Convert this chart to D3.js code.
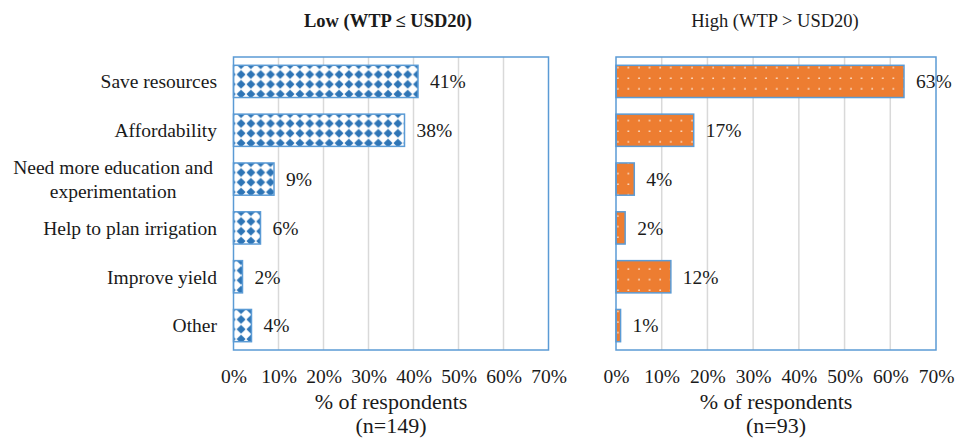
<!DOCTYPE html>
<html>
<head>
<meta charset="utf-8">
<script src="https://cdn.jsdelivr.net/npm/d3@7"></script>
<style>
  body { margin: 0; background: #fff; }
  svg text { font-family: "Liberation Serif", "Times New Roman", Times, serif; fill: #1a1a1a; }
</style>
</head>
<body>
<script>
'use strict';

// chart data
const categories = ["Save resources", "Affordability", "Need more education and|experimentation",
  "Help to plan irrigation", "Improve yield", "Other"];
const lowValues = [41, 38, 9, 6, 2, 4];
const highValues = [63, 17, 4, 2, 12, 1];
const tickValues = [0, 10, 20, 30, 40, 50, 60, 70];

(function () {

  const serif = '"Liberation Serif", "Times New Roman", serif';

  const svg = d3.select('body').append('svg')
    .attr('width', 958)
    .attr('height', 440)
    .attr('font-family', serif);

  const defs = svg.append('defs');

  // blue diamond pattern for the low panel
  const diamond = defs.append('pattern')
    .attr('id', 'diamonds')
    .attr('patternUnits', 'userSpaceOnUse')
    .attr('width', 9.8)
    .attr('height', 9.8)
    .attr('x', 1)
    .attr('y', 1);
  diamond.append('rect').attr('width', 9.8).attr('height', 9.8).attr('fill', '#fff');
  diamond.append('polygon')
    .attr('points', '4.9,0.4 9.4,4.9 4.9,9.4 0.4,4.9')
    .attr('fill', '#2e75b6');

  // orange with small white dots for the high panel
  const dots = defs.append('pattern')
    .attr('id', 'dots')
    .attr('patternUnits', 'userSpaceOnUse')
    .attr('width', 10.6)
    .attr('height', 10.6);
  dots.append('rect').attr('width', 10.6).attr('height', 10.6).attr('fill', '#ed7d31');
  dots.append('circle').attr('cx', 3).attr('cy', 4).attr('r', 0.9).attr('fill', '#fbe0cc');

  const plotTop = 57, plotBottom = 350;

  const yScale = d3.scaleBand()
    .domain(categories)
    .range([plotTop, plotBottom])
    .paddingInner(0.34)
    .paddingOuter(0.17);

  function drawPanel(opts) {
    const x = d3.scaleLinear().domain([0, 70]).range([opts.x0, opts.x1]);
    const g = svg.append('g');

    // gridlines
    g.selectAll('.grid')
      .data(tickValues.slice(1, -1))
      .enter().append('line')
      .attr('x1', d => x(d)).attr('x2', d => x(d))
      .attr('y1', plotTop).attr('y2', plotBottom)
      .attr('stroke', '#d9d9d9')
      .attr('stroke-width', 1.5);

    // bars
    g.selectAll('.bar')
      .data(opts.values)
      .enter().append('rect')
      .attr('x', x(0))
      .attr('y', (d, i) => yScale(categories[i]))
      .attr('width', d => x(d) - x(0))
      .attr('height', yScale.bandwidth())
      .attr('fill', opts.fill)
      .attr('stroke', '#5b9bd5')
      .attr('stroke-width', 1.5);

    // value labels
    g.selectAll('.val')
      .data(opts.values)
      .enter().append('text')
      .attr('x', d => x(d) + 12)
      .attr('y', (d, i) => yScale(categories[i]) + yScale.bandwidth() / 2)
      .attr('dy', '0.35em')
      .style('font-size', '19.5px')
      .text(d => d + '%');

    // plot border
    g.append('rect')
      .attr('x', opts.x0).attr('y', plotTop)
      .attr('width', opts.x1 - opts.x0).attr('height', plotBottom - plotTop)
      .attr('fill', 'none')
      .attr('stroke', '#5b9bd5')
      .attr('stroke-width', 1.5);

    // x axis ticks
    const axis = d3.axisBottom(x).tickValues(tickValues).tickSize(0).tickFormat(d => d + '%');
    const ax = svg.append('g')
      .attr('transform', `translate(0, ${plotBottom + 16})`)
      .call(axis)
      .attr('font-family', serif);
    ax.select('.domain').remove();
    ax.selectAll('text')
      .style('font-size', '19.5px')
      .attr('fill', '#1a1a1a');

    const cx = (opts.x0 + opts.x1) / 2;
    svg.append('text')
      .attr('x', cx).attr('y', 409)
      .attr('text-anchor', 'middle')
      .style('font-size', '22px')
      .text('% of respondents');
    svg.append('text')
      .attr('x', cx).attr('y', 433)
      .attr('text-anchor', 'middle')
      .style('font-size', '22px')
      .text(opts.n);

    svg.append('text')
      .attr('x', opts.titleX).attr('y', 26.5)
      .attr('text-anchor', 'middle')
      .style('font-size', '18.5px')
      .style('font-weight', opts.bold ? 'bold' : 'normal')
      .text(opts.title);
  }

  drawPanel({ x0: 233.5, x1: 548.5, values: lowValues, fill: 'url(#diamonds)',
    n: '(n=149)', title: 'Low (WTP \u2264 USD20)', titleX: 388, bold: true });
  drawPanel({ x0: 616, x1: 936, values: highValues, fill: 'url(#dots)',
    n: '(n=93)', title: 'High (WTP > USD20)', titleX: 775, bold: false });

  // category labels, right aligned, multi-line centred within block
  const labelRight = 217;
  categories.forEach(c => {
    const lines = c.split('|');
    const cy = yScale(c) + yScale.bandwidth() / 2;
    const t = svg.append('text')
      .style('font-size', '19.5px');
    lines.forEach(line => {
      t.append('tspan').text(line);
    });
    if (lines.length === 1) {
      t.attr('text-anchor', 'end')
        .attr('x', labelRight).attr('y', cy).attr('dy', '0.35em');
    } else {
      const w = d3.max(t.selectAll('tspan').nodes(), n => n.getComputedTextLength());
      const mid = 213 - w / 2;
      t.attr('text-anchor', 'middle');
      t.selectAll('tspan')
        .attr('x', mid)
        .attr('y', (d, j) => cy + (j - (lines.length - 1) / 2) * 24)
        .attr('dy', '0.35em');
    }
  });

})();
</script>
</body>
</html>
